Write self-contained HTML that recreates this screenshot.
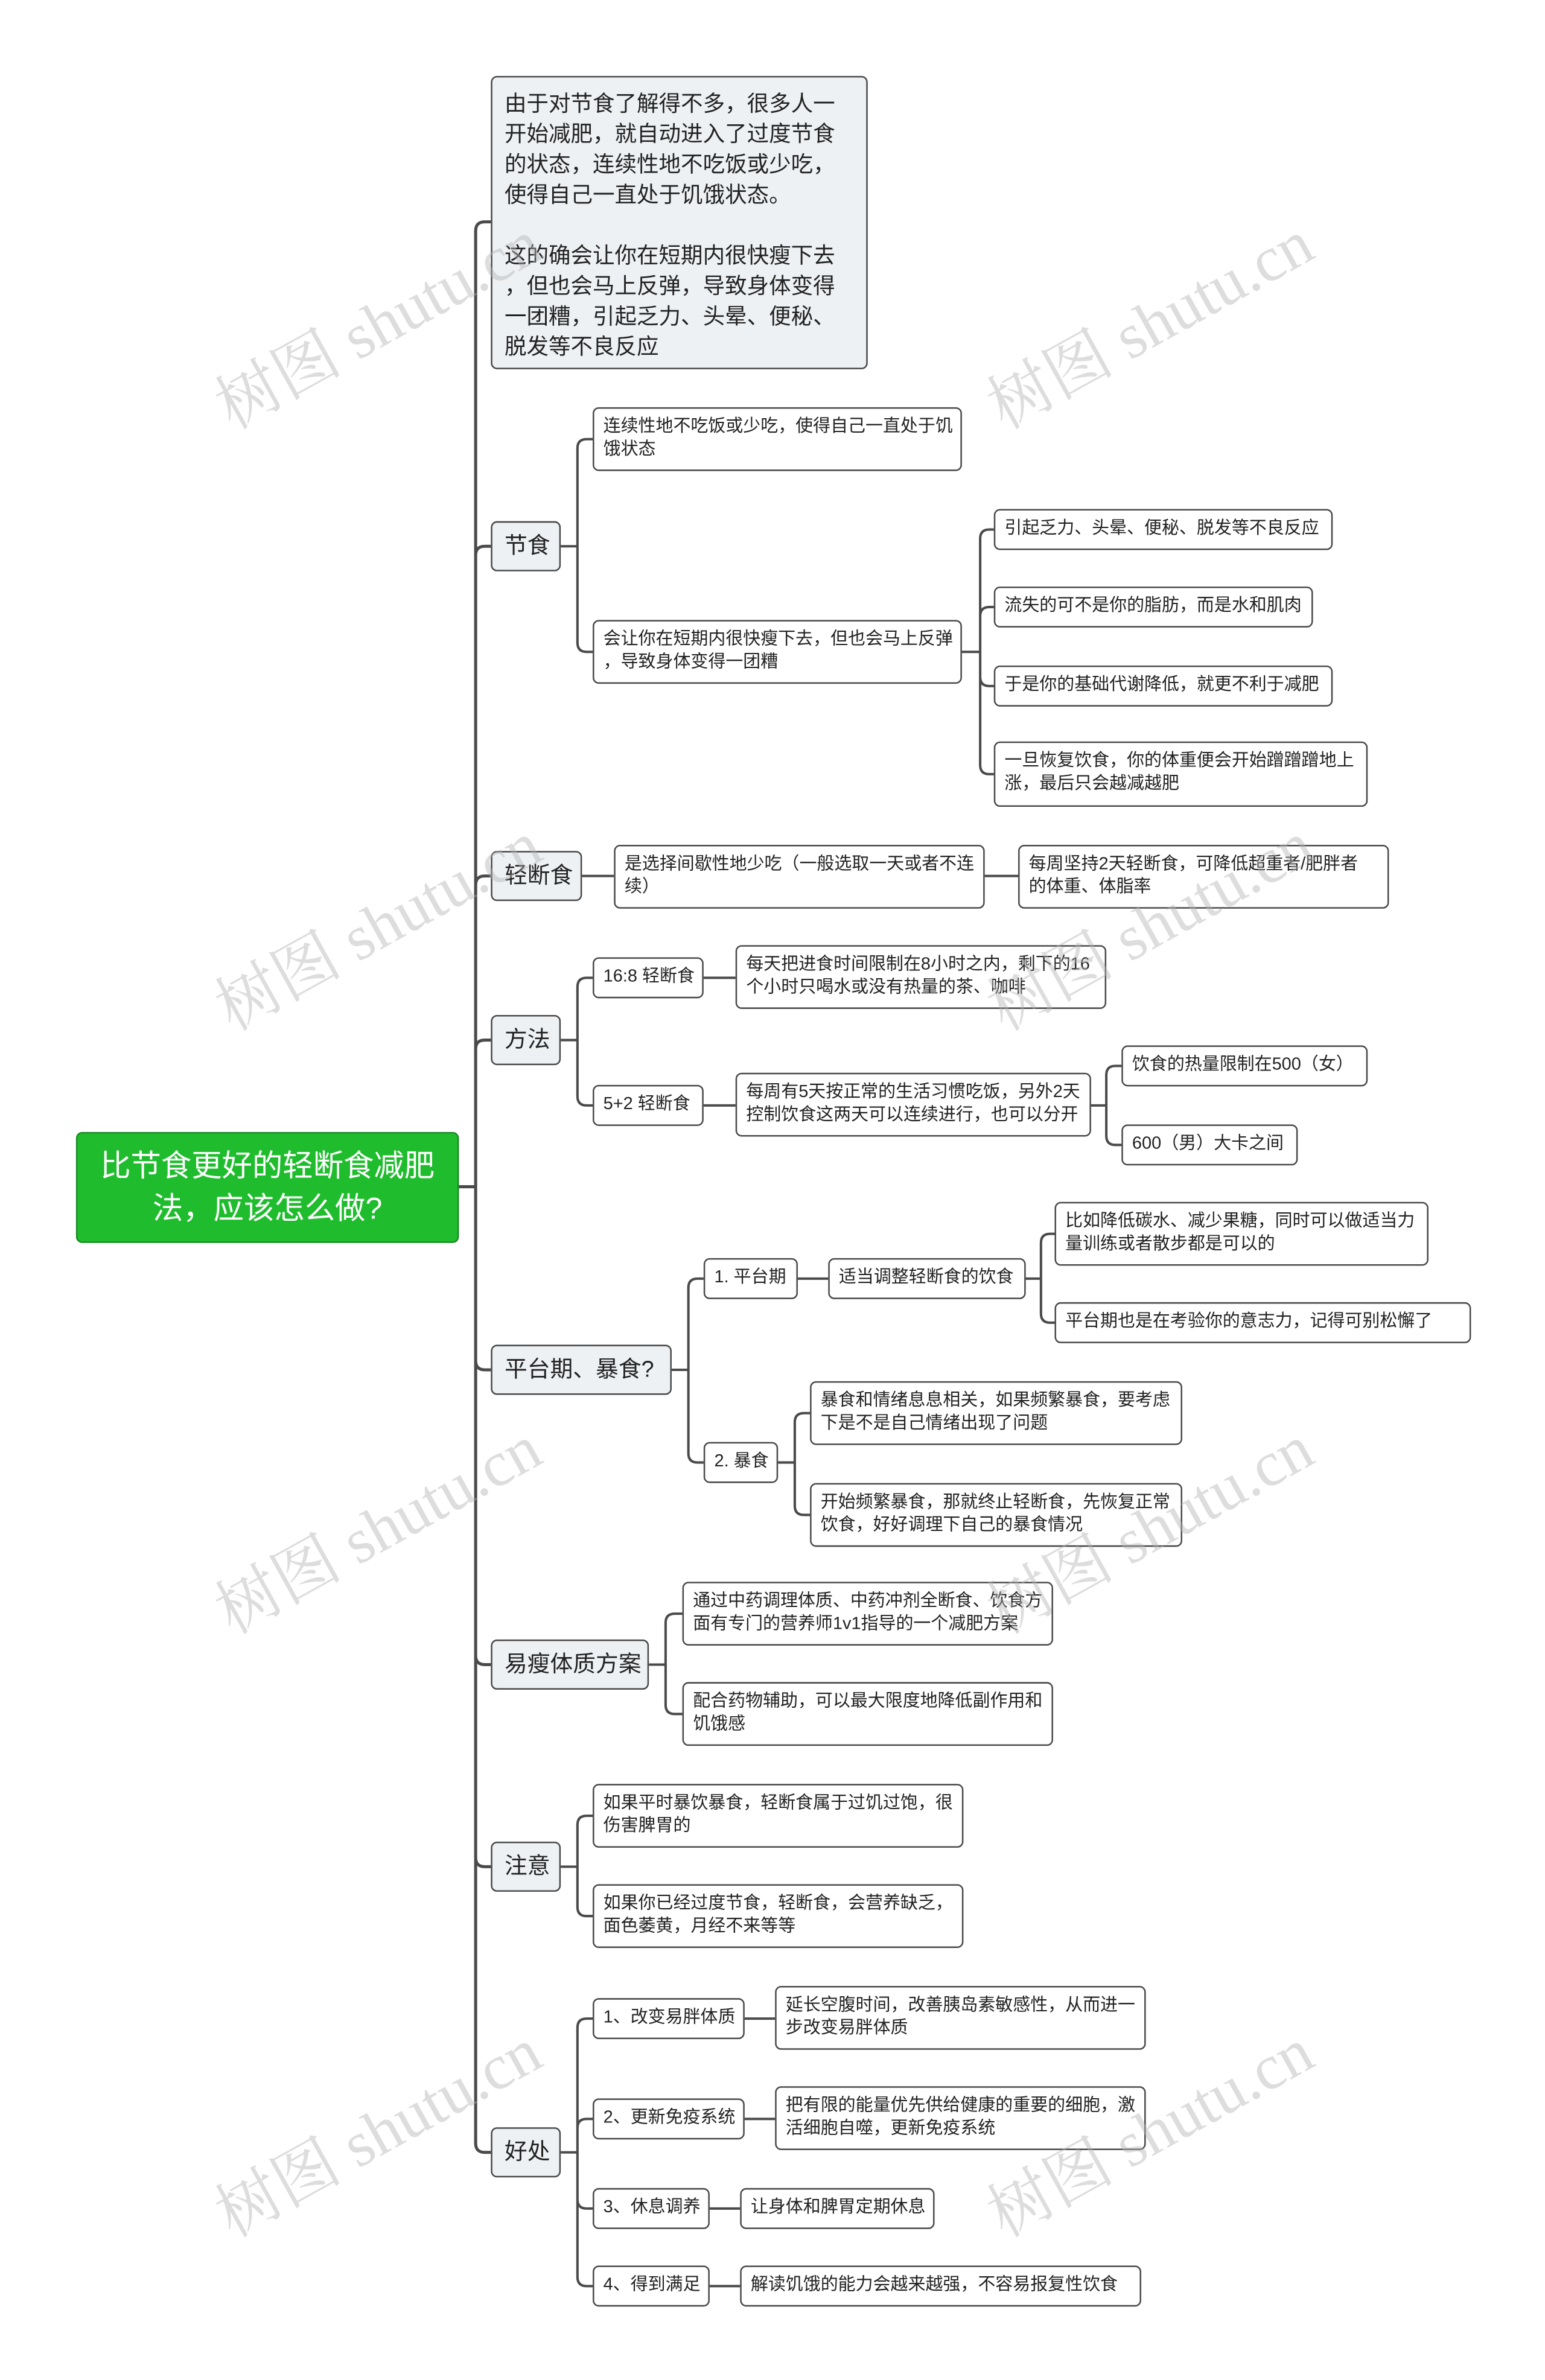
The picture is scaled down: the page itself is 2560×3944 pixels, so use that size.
<!DOCTYPE html>
<html><head><meta charset="utf-8"><style>
html,body{margin:0;padding:0;background:#fff;}
#wrap{position:relative;width:2560px;height:3944px;overflow:hidden;background:#fff;}
#c{position:absolute;left:0;top:0;width:1024px;height:1578px;transform:scale(2.518);transform-origin:0 0;font-family:"Liberation Sans","Noto Sans CJK SC",sans-serif;color:#222;}
.b{position:absolute;box-sizing:border-box;border:1px solid #4a4a4a;border-radius:4px;background:#fff;font-size:11.5px;line-height:15px;padding:5px 6px;white-space:nowrap;}
.s{display:flex;align-items:center;padding:0 6px;}
.g{background:#eef1f4;font-size:15px;display:flex;align-items:center;padding:0 8px;}
.wm{position:absolute;font-family:"Liberation Serif","Noto Serif CJK SC",serif;font-size:42px;color:rgba(180,180,180,0.45);transform:rotate(-29deg);transform-origin:0 0;white-space:nowrap;}
svg{position:absolute;left:0;top:0;}
</style></head><body><div id="wrap"><div id="c">
<svg width="1024" height="1578" fill="none" stroke="#4a4a4a" stroke-width="1.6">
<path stroke-width="2" d="M302 781H313M313 152V1410.5M313 152Q313 146 319 146H323M313 365.5Q313 359.5 319 359.5H323M313 582.5Q313 576.5 319 576.5H323M313 690.5Q313 684.5 319 684.5H323M313 895.5Q313 901.5 319 901.5H323M313 1089.5Q313 1095.5 319 1095.5H323M313 1222.5Q313 1228.5 319 1228.5H323M313 1410.5Q313 1416.5 319 1416.5H323"/>
<path d="M369 359.5H380M380 295V423M380 295Q380 289 386 289H390M380 423Q380 429 386 429H390"/>
<path d="M633 429H645M645 354.5V503.5M645 354.5Q645 348.5 651 348.5H654M645 405.5Q645 399.5 651 399.5H654M645 445.5Q645 451.5 651 451.5H654M645 503.5Q645 509.5 651 509.5H654"/>
<path d="M383 576.5H404M648 576.5H670"/>
<path d="M369 684.5H380M380 649.5V721.5M380 649.5Q380 643.5 386 643.5H390M380 721.5Q380 727.5 386 727.5H390M463 643.5H484M463 727.5H484"/>
<path d="M718 727.5H728M728 707.5V747.5M728 707.5Q728 701.5 734 701.5H738M728 747.5Q728 753.5 734 753.5H738"/>
<path d="M442 901.5H453M453 847.5V956.5M453 847.5Q453 841.5 459 841.5H463M453 956.5Q453 962.5 459 962.5H463M525 841.5H545"/>
<path d="M675 841.5H685M685 818V864.5M685 818Q685 812 691 812H694M685 864.5Q685 870.5 691 870.5H694"/>
<path d="M512 962.5H523M523 936V991M523 936Q523 930 529 930H533M523 991Q523 997 529 997H533"/>
<path d="M427 1095.5H438M438 1068V1122M438 1068Q438 1062 444 1062H449M438 1122Q438 1128 444 1128H449"/>
<path d="M369 1228.5H380M380 1201V1255M380 1201Q380 1195 386 1195H390M380 1255Q380 1261 386 1261H390"/>
<path d="M369 1416.5H380M380 1334.5V1498.5M380 1334.5Q380 1328.5 386 1328.5H390M380 1400.5Q380 1394.5 386 1394.5H390M380 1447.5Q380 1453.5 386 1453.5H390M380 1498.5Q380 1504.5 386 1504.5H390M490 1328.5H510M490 1394.5H510M467 1453.5H487M467 1504.5H487"/>
</svg>
<div class="b" style="left:50px;top:745px;width:252px;height:73px;background:#1fbd2d;border-color:#1a8a25;color:#fff;font-size:20px;line-height:28px;text-align:center;white-space:normal;display:flex;align-items:center;justify-content:center;padding:0 12px;">比节食更好的轻断食减肥法，应该怎么做?</div>
<div class="b" style="left:323px;top:50px;width:248px;height:193px;background:#eef1f4;font-size:14.5px;line-height:20px;padding:8px 8px;">由于对节食了解得不多，很多人一<br>开始减肥，就自动进入了过度节食<br>的状态，连续性地不吃饭或少吃，<br>使得自己一直处于饥饿状态。<br><br>这的确会让你在短期内很快瘦下去<br>，但也会马上反弹，导致身体变得<br>一团糟，引起乏力、头晕、便秘、<br>脱发等不良反应</div>
<div class="b g" style="left:323px;top:343px;width:46px;height:33px;">节食</div>
<div class="b g" style="left:323px;top:560px;width:60px;height:33px;">轻断食</div>
<div class="b g" style="left:323px;top:668px;width:46px;height:33px;">方法</div>
<div class="b g" style="left:323px;top:885px;width:119px;height:33px;">平台期、暴食?</div>
<div class="b g" style="left:323px;top:1079px;width:104px;height:33px;">易瘦体质方案</div>
<div class="b g" style="left:323px;top:1212px;width:46px;height:33px;">注意</div>
<div class="b g" style="left:323px;top:1400px;width:46px;height:33px;">好处</div>

<div class="b" style="left:390px;top:268px;width:243px;height:42px;">连续性地不吃饭或少吃，使得自己一直处于饥<br>饿状态</div>
<div class="b" style="left:390px;top:408px;width:243px;height:42px;">会让你在短期内很快瘦下去，但也会马上反弹<br>，导致身体变得一团糟</div>
<div class="b s" style="left:654px;top:335px;width:223px;height:27px;">引起乏力、头晕、便秘、脱发等不良反应</div>
<div class="b s" style="left:654px;top:386px;width:210px;height:27px;">流失的可不是你的脂肪，而是水和肌肉</div>
<div class="b s" style="left:654px;top:438px;width:223px;height:27px;">于是你的基础代谢降低，就更不利于减肥</div>
<div class="b" style="left:654px;top:488px;width:246px;height:43px;">一旦恢复饮食，你的体重便会开始蹭蹭蹭地上<br>涨，最后只会越减越肥</div>

<div class="b" style="left:404px;top:556px;width:244px;height:42px;">是选择间歇性地少吃（一般选取一天或者不连<br>续）</div>
<div class="b" style="left:670px;top:556px;width:244px;height:42px;">每周坚持2天轻断食，可降低超重者/肥胖者<br>的体重、体脂率</div>

<div class="b s" style="left:390px;top:630px;width:73px;height:27px;">16:8 轻断食</div>
<div class="b" style="left:484px;top:622px;width:244px;height:42px;">每天把进食时间限制在8小时之内，剩下的16<br>个小时只喝水或没有热量的茶、咖啡</div>
<div class="b s" style="left:390px;top:714px;width:73px;height:27px;">5+2 轻断食</div>
<div class="b" style="left:484px;top:706px;width:234px;height:42px;">每周有5天按正常的生活习惯吃饭，另外2天<br>控制饮食这两天可以连续进行，也可以分开</div>
<div class="b s" style="left:738px;top:688px;width:162px;height:27px;">饮食的热量限制在500（女）</div>
<div class="b s" style="left:738px;top:740px;width:116px;height:27px;">600（男）大卡之间</div>

<div class="b s" style="left:463px;top:828px;width:62px;height:27px;">1. 平台期</div>
<div class="b s" style="left:545px;top:828px;width:130px;height:27px;">适当调整轻断食的饮食</div>
<div class="b" style="left:694px;top:791px;width:246px;height:42px;">比如降低碳水、减少果糖，同时可以做适当力<br>量训练或者散步都是可以的</div>
<div class="b s" style="left:694px;top:857px;width:274px;height:27px;">平台期也是在考验你的意志力，记得可别松懈了</div>
<div class="b s" style="left:463px;top:949px;width:49px;height:27px;">2. 暴食</div>
<div class="b" style="left:533px;top:909px;width:245px;height:42px;">暴食和情绪息息相关，如果频繁暴食，要考虑<br>下是不是自己情绪出现了问题</div>
<div class="b" style="left:533px;top:976px;width:245px;height:42px;">开始频繁暴食，那就终止轻断食，先恢复正常<br>饮食，好好调理下自己的暴食情况</div>

<div class="b" style="left:449px;top:1041px;width:244px;height:42px;">通过中药调理体质、中药冲剂全断食、饮食方<br>面有专门的营养师1v1指导的一个减肥方案</div>
<div class="b" style="left:449px;top:1107px;width:244px;height:42px;">配合药物辅助，可以最大限度地降低副作用和<br>饥饿感</div>

<div class="b" style="left:390px;top:1174px;width:244px;height:42px;">如果平时暴饮暴食，轻断食属于过饥过饱，很<br>伤害脾胃的</div>
<div class="b" style="left:390px;top:1240px;width:244px;height:42px;">如果你已经过度节食，轻断食，会营养缺乏，<br>面色萎黄，月经不来等等</div>

<div class="b s" style="left:390px;top:1315px;width:100px;height:27px;">1、改变易胖体质</div>
<div class="b" style="left:510px;top:1307px;width:244px;height:42px;">延长空腹时间，改善胰岛素敏感性，从而进一<br>步改变易胖体质</div>
<div class="b s" style="left:390px;top:1381px;width:100px;height:27px;">2、更新免疫系统</div>
<div class="b" style="left:510px;top:1373px;width:244px;height:42px;">把有限的能量优先供给健康的重要的细胞，激<br>活细胞自噬，更新免疫系统</div>
<div class="b s" style="left:390px;top:1440px;width:77px;height:27px;">3、休息调养</div>
<div class="b s" style="left:487px;top:1440px;width:128px;height:27px;">让身体和脾胃定期休息</div>
<div class="b s" style="left:390px;top:1491px;width:77px;height:27px;">4、得到满足</div>
<div class="b s" style="left:487px;top:1491px;width:264px;height:27px;">解读饥饿的能力会越来越强，不容易报复性饮食</div>

<div class="wm" style="left:130px;top:242px;">树图 shutu.cn</div>
<div class="wm" style="left:638px;top:242px;">树图 shutu.cn</div>
<div class="wm" style="left:130px;top:638px;">树图 shutu.cn</div>
<div class="wm" style="left:638px;top:638px;">树图 shutu.cn</div>
<div class="wm" style="left:130px;top:1035px;">树图 shutu.cn</div>
<div class="wm" style="left:638px;top:1035px;">树图 shutu.cn</div>
<div class="wm" style="left:130px;top:1432px;">树图 shutu.cn</div>
<div class="wm" style="left:638px;top:1432px;">树图 shutu.cn</div>
</div></div></body></html>
